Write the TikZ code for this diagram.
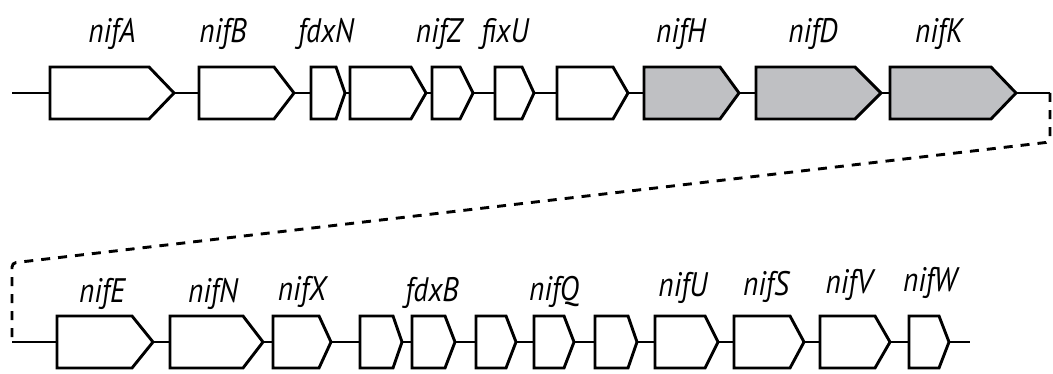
\documentclass[tikz,border=0pt]{standalone}
\usepackage{fontspec}
\setsansfont{PT Sans}[FakeStretch=0.86]
\definecolor{coregray}{RGB}{191,192,195}
% gene arrow: [style]{name}{left}{shoulder}{tip}{mid y}
\newcommand{\gene}[6][genebox]{%
	\draw[#1] (#3,#6-26) -- (#4,#6-26) -- (#5,#6) -- (#4,#6+26) -- (#3,#6+26) -- cycle;
	\coordinate (#2-l) at (#3,#6);
	\coordinate (#2-r) at (#5,#6);
}
\begin{document}
\begin{tikzpicture}[x=0.5pt,y=-0.5pt]
		\tikzset{genebox/.style = {draw, line width=1.45pt, fill=white}}
		\tikzset{corebox/.style = {genebox, fill=coregray}}
		\tikzset{backbone/.style = {line width=1.45pt}}
		\tikzset{link/.style = {line width=1.45pt, dash pattern=on 4.5pt off 4pt, rounded corners=2pt}}
		\tikzset{lbl/.style = {anchor=base, inner sep=0pt, font=\sffamily\itshape\fontsize{17}{19}\selectfont}}
		
		\useasboundingbox (0,0) rectangle (1053,374);
		
		% top row
		\gene{nifA}{  50}{ 149}{ 174}{93}
		\gene{nifB}{ 199}{ 274}{ 294}{93}
		\gene{fdxN}{ 311}{ 336}{ 345}{93}
		\gene{orfA}{ 350}{ 411}{ 426}{93}
		\gene{nifZ}{ 432}{ 460}{ 473}{93}
		\gene{fixU}{ 495}{ 522}{ 534}{93}
		\gene{orfB}{ 557}{ 613}{ 628}{93}
		\gene[corebox]{nifH}{ 644}{ 720}{ 739}{93}
		\gene[corebox]{nifD}{ 756}{ 855}{ 881}{93}
		\gene[corebox]{nifK}{ 890}{ 991}{1016}{93}
		
		% bottom row
		\gene{nifE}{  57}{ 132}{ 153}{342}
		\gene{nifN}{ 170}{ 243}{ 263}{342}
		\gene{nifX}{ 273}{ 319}{ 331}{342}
		\gene{orfC}{ 360}{ 393}{ 402}{342}
		\gene{fdxB}{ 412}{ 445}{ 455}{342}
		\gene{orfD}{ 476}{ 506}{ 516}{342}
		\gene{nifQ}{ 534}{ 564}{ 574}{342}
		\gene{orfE}{ 595}{ 628}{ 637}{342}
		\gene{nifU}{ 655}{ 705}{ 718}{342}
		\gene{nifS}{ 734}{ 790}{ 804}{342}
		\gene{nifV}{ 820}{ 875}{ 890}{342}
		\gene{nifW}{ 909}{ 939}{ 949}{342}
		
		\coordinate (startA-r) at (  12,  93);
		\coordinate (turnA)    at (1050,  93);
		\coordinate (turnB)    at (1050, 142);
		\coordinate (turnC)    at (  12, 263);
		\coordinate (startB-r) at (  12, 342);
		\coordinate (endB-l)   at ( 970, 342);
		
		\foreach \a/\b in {startA/nifA, nifA/nifB, nifB/fdxN, fdxN/orfA, orfA/nifZ, nifZ/fixU, fixU/orfB, orfB/nifH, nifH/nifD, nifD/nifK,
			startB/nifE, nifE/nifN, nifN/nifX, nifX/orfC, orfC/fdxB, fdxB/orfD, orfD/nifQ, nifQ/orfE, orfE/nifU, nifU/nifS, nifS/nifV, nifV/nifW, nifW/endB}
			\draw[backbone] (\a-r) -- (\b-l);
		
		\draw[backbone] (nifK-r) -- (turnA);
		\draw[link] (turnA) -- (turnB) -- (turnC) -- (startB-r);
		
		% labels
		\node[lbl] (lnifA) at ( 112, 43) {nifA};
		\node[lbl] (lnifB) at ( 223, 43) {nifB};
		\node[lbl] (lfdxN) at ( 326, 43) {fdxN};
		\node[lbl] (lnifZ) at ( 439, 43) {nifZ};
		\node[lbl] (lfixU) at ( 505, 43) {fixU};
		\node[lbl] (lnifH) at ( 681, 43) {nifH};
		\node[lbl] (lnifD) at ( 813, 43) {nifD};
		\node[lbl] (lnifK) at ( 939, 43) {nifK};
		
		\node[lbl] (lnifE) at ( 102,302) {nifE};
		\node[lbl] (lnifN) at ( 213,302) {nifN};
		\node[lbl] (lnifX) at ( 302,300) {nifX};
		\node[lbl] (lfdxB) at ( 432,301) {fdxB};
		\node[lbl] (lnifQ) at ( 554,300) {nifQ};
		\node[lbl] (lnifU) at ( 683,296) {nifU};
		\node[lbl] (lnifS) at ( 766,295) {nifS};
		\node[lbl] (lnifV) at ( 849,293) {nifV};
		\node[lbl] (lnifW) at ( 930,291) {nifW};
\end{tikzpicture}
\end{document}
